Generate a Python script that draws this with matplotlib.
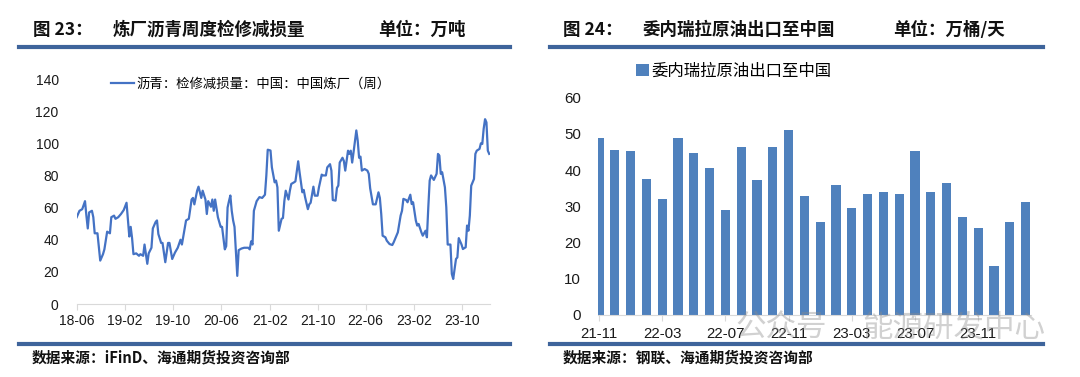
import numpy as np
import pandas as pd
import matplotlib
matplotlib.use("Agg")
import matplotlib.pyplot as plt
import matplotlib.dates as mdates
from matplotlib.lines import Line2D

plt.rcParams['font.family'] = ['Liberation Sans', 'Noto Sans CJK SC', 'DejaVu Sans']
CJK = ['Noto Sans CJK SC', 'DejaVu Sans']

# ---- 图23 数据: 周度, 以 2018-06-01 起的周数
semanas = [0, 2, 4, 6, 7, 8, 9, 11, 12, 13, 15, 17, 19, 20, 22, 24, 25, 27, 28, 30,
           32, 34, 36, 38, 39, 40, 41, 43, 45, 46, 48, 49, 51, 52, 54, 55, 57, 58, 59, 61,
           62, 64, 66, 67, 69, 71, 73, 75, 76, 78, 79, 81, 83, 84, 85, 87, 88, 90, 91, 93,
           94, 95, 97, 98, 99, 100, 102, 104, 105, 107, 108, 109, 110, 111, 112, 113, 114, 116, 117, 119,
           121, 124, 125, 126, 127, 128, 130, 132, 134, 136, 137, 138, 140, 141, 143, 144, 145, 146, 148, 149,
           150, 151, 153, 154, 155, 157, 158, 160, 161, 163, 164, 165, 167, 168, 169, 171, 172, 174, 175, 177,
           178, 180, 181, 183, 184, 185, 187, 188, 189, 190, 192, 193, 194, 196, 197, 198, 199, 200, 202, 203,
           204, 205, 206, 208, 210, 211, 212, 214, 215, 216, 218, 219, 220, 221, 223, 224, 226, 228, 229, 231,
           232, 234, 235, 236, 238, 239, 241, 242, 243, 245, 246, 247, 249, 250, 252, 253, 254, 255, 256, 258,
           260, 261, 262, 263, 264, 266, 267, 268, 270, 271, 272, 274, 275, 276, 278, 279, 281, 282, 283, 284,
           285, 287, 288, 289, 291, 292, 293, 294, 295, 296, 297, 298]
jianxiu = [54, 58, 59, 64, 55, 47, 57, 58, 54, 44, 44, 27, 31, 34, 45, 44, 54, 55, 53, 54,
           56, 58.5, 63, 42, 48, 41, 31, 31.5, 30, 31, 30, 37, 25, 31.5, 35, 47, 51, 52, 43.5, 38,
           38, 26, 38, 38, 28, 32, 35, 40, 37, 47, 52, 53, 65, 66, 62, 70.5, 73, 66, 70.5, 65,
           56, 64, 60.5, 65, 58, 65, 54, 48, 48, 34, 36, 60, 64, 67.5, 58, 52, 48, 17.5, 33.5, 34.5,
           35, 35, 34, 39, 37, 58, 64, 66.5, 66, 68, 80, 96, 95.5, 85, 75.7, 76.8, 72.6, 45.6, 53, 53.5,
           64, 70.5, 65, 70.5, 74.7, 75.7, 76.3, 88.8, 82, 69.5, 71, 66.4, 59, 62, 63, 73, 67.4, 67.4, 72.6, 80.5,
           80, 80, 85, 87, 83, 64.7, 64.3, 72.2, 73.7, 88, 91, 89, 83, 95.4, 93.4, 95.4, 88, 94.4, 108, 101.7,
           91, 91.7, 83, 84, 83, 81, 72, 62, 62, 62, 69.5, 66, 56, 42.5, 41.5, 39.4, 37.3, 36.7, 38.4, 42.5,
           44.6, 55, 58, 65.4, 64.7, 63.3, 68, 62.2, 63.3, 51.9, 48.8, 49.8, 44.6, 42.5, 45.6, 41.5, 60.2, 76.8, 80, 77.2,
           81, 93.4, 92.3, 81, 82, 72.6, 60.2, 37, 37, 18.7, 15.6, 28, 29, 41, 37, 34.2, 35.3, 48.8, 45.6, 55,
           73.6, 77.8, 93.4, 95.4, 96.5, 100, 99.6, 109, 115, 113, 95.4, 93.4]
fechas = pd.Timestamp('2018-06-01') + pd.to_timedelta(np.array(semanas) * 7, unit='D')
ticks_izq = pd.date_range('2018-06-01', '2023-10-01', freq='8MS')

# ---- 图24 数据: 月度, 万桶/天
meses = pd.date_range('2021-11-01', '2024-02-01', freq='MS')
exportaciones = [49.0, 45.5, 45.2, 37.6, 31.9, 48.9, 44.8, 40.6, 28.9, 46.3, 37.4, 46.3, 51.0, 32.9,
                 25.7, 36.0, 29.6, 33.5, 34.1, 33.5, 45.2, 34.1, 36.5, 27.0, 24.1, 13.5, 25.7, 31.2]
etiquetas_der = [m.strftime('%y-%m') for m in meses]

W, H = 1080, 377
fig = plt.figure(figsize=(W / 100, H / 100), dpi=100)


def fx(x):
    return x / W


def fy(y):
    return 1 - y / H


azul_linea = '#3e649b'
gris = '#d9d9d9'

# encabezados y reglas
for x0, x1 in [(19, 510), (550, 1043)]:
    for y in (47, 344):
        fig.add_artist(Line2D([fx(x0), fx(x1)], [fy(y), fy(y)], color=azul_linea, lw=3))

tit = dict(fontsize=12.6, fontweight='bold', family=CJK, va='center', color='#111111')
fig.text(fx(33), fy(30), '图 23：', **tit)
fig.text(fx(113), fy(30), '炼厂沥青周度检修减损量', **tit)
fig.text(fx(378), fy(30), '单位：万吨', **tit)
fig.text(fx(563), fy(30), '图 24：', **tit)
fig.text(fx(643), fy(30), '委内瑞拉原油出口至中国', **tit)
fig.text(fx(893), fy(30), '单位：万桶/天', **tit)

pie = dict(fontsize=10.6, fontweight='bold', family=CJK, va='center', color='#111111')
fig.text(fx(32), fy(357), '数据来源：iFinD、海通期货投资咨询部', **pie)
fig.text(fx(563), fy(357), '数据来源：钢联、海通期货投资咨询部', **pie)

# ---- 左图
ax1 = fig.add_axes([fx(76.7), fy(304), fx(490) - fx(76.7), fy(79) - fy(304)])
ax1.plot(fechas, jianxiu, color='#4472c4', lw=1.6, label='沥青：检修减损量：中国：中国炼厂（周）')
ax1.set_ylim(0, 140)
ax1.set_yticks(range(0, 141, 20))
ax1.set_xlim(pd.Timestamp('2018-06-01'), pd.Timestamp('2024-02-20'))
ax1.set_xticks(ticks_izq)
ax1.xaxis.set_major_formatter(mdates.DateFormatter('%y-%m'))
for s in ['top', 'right', 'left']:
    ax1.spines[s].set_visible(False)
ax1.spines['bottom'].set_color(gris)
ax1.tick_params(axis='y', length=0, pad=13, labelsize=10, labelcolor='#1a1a1a')
ax1.tick_params(axis='x', length=4, color=gris, pad=3, labelsize=10, labelcolor='#1a1a1a')
ax1.legend(loc='center left', bbox_to_anchor=(fx(111), fy(84)), bbox_transform=fig.transFigure,
           frameon=False, borderpad=0, borderaxespad=0, handlelength=1.7, handletextpad=0.2,
           prop={'family': CJK, 'size': 9.6})

# ---- 右图
ax2 = fig.add_axes([fx(597.7), fy(315), fx(1031) - fx(597.7), fy(97.7) - fy(315)])
pos = np.arange(len(exportaciones))
ax2.bar(pos, exportaciones, width=0.59, color='#4f81bd', label='委内瑞拉原油出口至中国')
ax2.set_ylim(0, 60)
ax2.set_yticks(range(0, 61, 10))
ax2.set_xlim(-0.08, 27.34)
ax2.set_xticks(pos[::4])
ax2.set_xticklabels(etiquetas_der[::4])
for s in ['top', 'right', 'left']:
    ax2.spines[s].set_visible(False)
ax2.spines['bottom'].set_color(gris)
ax2.tick_params(axis='y', length=0, pad=12, labelsize=10.8, labelcolor='#1a1a1a')
ax2.tick_params(axis='x', length=4, color=gris, pad=5, labelsize=10.8, labelcolor='#1a1a1a')
ax2.legend(loc='center left', bbox_to_anchor=(fx(636), fy(71)), bbox_transform=fig.transFigure,
           frameon=False, borderpad=0, borderaxespad=0, handlelength=0.8, handleheight=0.8,
           handletextpad=0.15, prop={'family': CJK, 'size': 11.8})

# 水印
fig.text(fx(735), fy(328), '公众号', fontsize=22, family=CJK, color='#8c8c8c', alpha=0.4, va='center')
fig.text(fx(862), fy(328), '能源研发中心', fontsize=22, family=CJK, color='#8c8c8c', alpha=0.4, va='center')

fig.savefig('out.png', dpi=100)
